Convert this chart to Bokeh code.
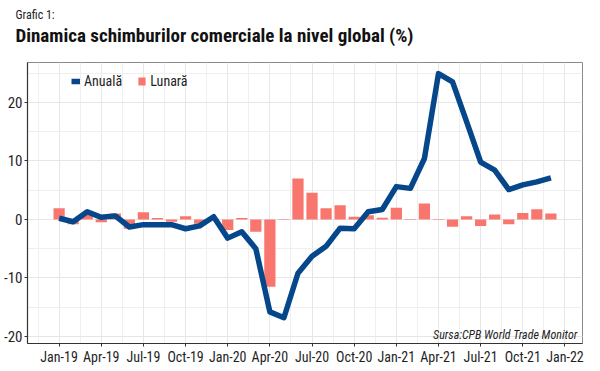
from bokeh.plotting import figure
from bokeh.models import FixedTicker, Label, Legend, LegendItem, Range1d, Title
from bokeh.embed import file_html
from bokeh.resources import INLINE

# ---- data ----
months = ["2019-01", "2019-02", "2019-03", "2019-04", "2019-05", "2019-06",
          "2019-07", "2019-08", "2019-09", "2019-10", "2019-11", "2019-12",
          "2020-01", "2020-02", "2020-03", "2020-04", "2020-05", "2020-06",
          "2020-07", "2020-08", "2020-09", "2020-10", "2020-11", "2020-12",
          "2021-01", "2021-02", "2021-03", "2021-04", "2021-05", "2021-06",
          "2021-07", "2021-08", "2021-09", "2021-10", "2021-11", "2021-12"]

anuala = [0.2, -0.4, 1.3, 0.35, 0.6, -1.3, -0.9, -0.9, -0.9, -1.6, -1.1, 0.45,
          -3.2, -2.1, -5.0, -15.8, -16.8, -9.2, -6.3, -4.6, -1.5, -1.6, 1.3, 1.7,
          5.6, 5.3, 10.4, 24.9, 23.5, 16.7, 9.8, 8.4, 5.1, 5.9, 6.4, 7.1]

lunara = [1.9, -0.85, 0.8, -0.5, 1.0, -1.6, 1.2, 0.25, -0.4, 0.55, -0.75, 0.1,
          -1.8, 0.25, -2.1, -11.5, -0.1, 7.0, 4.55, 1.9, 2.4, 0.45, 0.7, 0.3,
          2.0, 0.05, 2.7, -0.1, -1.25, 0.55, -1.15, 0.85, -0.85, 1.1, 1.75, 1.0]

x_tick_labels = ["Jan-19", "Apr-19", "Jul-19", "Oct-19", "Jan-20", "Apr-20",
                 "Jul-20", "Oct-20", "Jan-21", "Apr-21", "Jul-21", "Oct-21", "Jan-22"]
y_ticks = [-20, -10, 0, 10, 20]
y_tick_labels = ["-20", "-10", "0", "10", "20"]

title_small = "Grafic 1:"
title_main = "Dinamica schimburilor comerciale la nivel global (%)"
source_txt = "Sursa:CPB World Trade Monitor"

# ---- derived positions ----
idx = list(range(len(months)))
x_ticks = [3 * k for k in range(len(x_tick_labels))]
x_minor = [t + 1.5 for t in [-3] + x_ticks]
y_minor = [t + 5 for t in [-25] + y_ticks]

FONT = "Roboto Condensed"
TXT = "#1f1f1f"

p = figure(frame_width=555, frame_height=281,
           x_range=Range1d(-2.25, 37.25), y_range=Range1d(-21.2, 26.8),
           output_backend="svg", toolbar_location=None,
           min_border_left=25, min_border_right=4, min_border_top=54,
           min_border_bottom=20)

p.background_fill_color = "white"
p.border_fill_color = "white"
p.outline_line_color = "#8a8a8a"
p.outline_line_width = 1

bars = p.vbar(x=idx, top=lunara, bottom=0, width=0.8,
              fill_color="#F8766D", line_color=None)
line = p.line(idx, anuala, line_width=5.5, line_color="#05478A",
              line_join="round")

# axes
p.xaxis.ticker = FixedTicker(ticks=x_ticks, minor_ticks=x_minor)
p.xaxis.major_label_overrides = {t: l for t, l in zip(x_ticks, x_tick_labels)}
p.yaxis.ticker = FixedTicker(ticks=y_ticks, minor_ticks=y_minor)
p.yaxis.major_label_overrides = {t: l for t, l in zip(y_ticks, y_tick_labels)}

for ax in (p.xaxis, p.yaxis):
    ax.axis_line_color = "#333333"
    ax.axis_line_width = 1.2
    ax.major_tick_line_color = "#333333"
    ax.major_tick_out = 3
    ax.major_tick_in = 0
    ax.minor_tick_line_color = None
    ax.major_label_text_font = FONT
    ax.major_label_text_font_size = "14px"
    ax.major_label_text_color = TXT
    ax.major_label_standoff = 1
p.yaxis.major_label_text_font_size = "15px"

p.xgrid.grid_line_color = "#E6E6E6"
p.ygrid.grid_line_color = "#E6E6E6"
p.xgrid.minor_grid_line_color = "#EFEFEF"
p.ygrid.minor_grid_line_color = "#EFEFEF"

# legend
legend = Legend(items=[LegendItem(label="Anuală", renderers=[line]),
                       LegendItem(label="Lunară", renderers=[bars])],
                orientation="horizontal", location=(44, 254),
                glyph_width=9, glyph_height=10, label_standoff=4, spacing=15,
                padding=0, margin=0, border_line_color=None,
                background_fill_alpha=0,
                label_text_font=FONT, label_text_font_size="14px",
                label_text_color=TXT)
p.add_layout(legend)

# titles, stacked from the frame outwards (spacers are blank titles)
p.add_layout(Title(text=" ", align="left", standoff=12,
                   text_font=FONT, text_font_size="2px"), "above")
p.add_layout(Title(text=title_main, align="left", offset=-12, standoff=0,
                   text_font=FONT, text_font_size="19px",
                   text_font_style="bold", text_color="#111111"), "above")
p.add_layout(Title(text=title_small, align="left", offset=-12, standoff=0,
                   text_font=FONT, text_font_size="12px",
                   text_font_style="normal", text_color=TXT), "above")
p.add_layout(Title(text=" ", align="left", standoff=1,
                   text_font=FONT, text_font_size="2px"), "above")

# source note inside the frame
p.add_layout(Label(x=550, y=9, x_units="screen", y_units="screen",
                   text=source_txt, text_font=FONT, text_font_size="12px",
                   text_font_style="italic", text_color=TXT,
                   text_align="right", text_baseline="alphabetic"))

open("out.html", "w").write(file_html(p, INLINE))
